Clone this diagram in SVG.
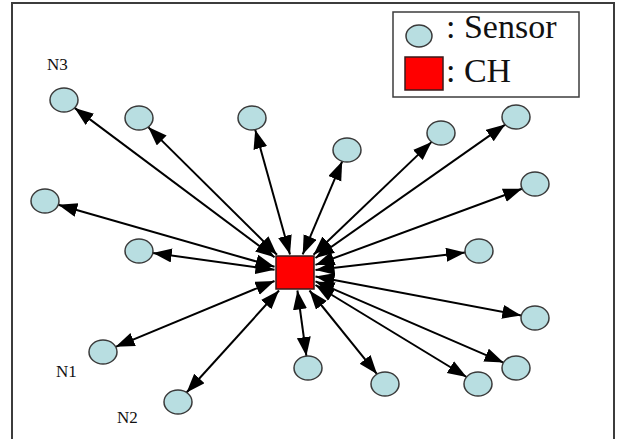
<svg xmlns="http://www.w3.org/2000/svg" width="617" height="439" viewBox="0 0 617 439">
  <style>
    .frame { fill: #ffffff; stroke: #3c3c3c; stroke-width: 2; }
    .legend { fill: #ffffff; stroke: #3c3c3c; stroke-width: 1.5; }
    .sensor { fill: #b8dee1; stroke: #3a3a3a; stroke-width: 1.5; }
    .ch { fill: #ff0000; stroke: #3a1a1a; stroke-width: 1.5; }
    .label { font-family: "Liberation Serif", "Times New Roman", serif; fill: #111111; }
    .small { font-size: 17px; }
    .big { font-size: 34px; }
    .link { stroke: #000000; stroke-width: 2; fill: none; marker-start: url(#head); marker-end: url(#head); }
  </style>
  <defs>
    <marker id="head" markerUnits="userSpaceOnUse" markerWidth="20" markerHeight="15" refX="19" refY="7" orient="auto-start-reverse">
      <path d="M0,0 L19,7 L0,14 Z" fill="#000000"/>
    </marker>
  </defs>

  <!-- outer frame (open at the bottom edge) -->
  <path class="frame" d="M12,445 L12,3 L614,3 L614,445"/>

  <!-- legend -->
  <g id="legend">
    <rect class="legend" x="393" y="12" width="186" height="85"/>
    <ellipse class="sensor" cx="419" cy="36" rx="13" ry="11"/>
    <text class="label big" x="446" y="38">: Sensor</text>
    <rect class="ch" x="405" y="57" width="38" height="33"/>
    <text class="label big" x="446" y="82">: CH</text>
  </g>

  <!-- connectors: cluster head to each sensor, arrowheads at both ends -->
  <g id="connectors">
    <line class="link" x1="274.5" y1="257.2" x2="74.6" y2="107.9"/>
    <line class="link" x1="277" y1="254.7" x2="148.2" y2="127.1"/>
    <line class="link" x1="290" y1="254.5" x2="255.2" y2="129.7"/>
    <line class="link" x1="302.7" y1="254.4" x2="342.2" y2="161.3"/>
    <line class="link" x1="313.5" y1="254.8" x2="431.6" y2="141.9"/>
    <line class="link" x1="315.5" y1="258" x2="505.2" y2="124.6"/>
    <line class="link" x1="274.5" y1="266.7" x2="58.3" y2="204.8"/>
    <line class="link" x1="315.5" y1="264.9" x2="522.1" y2="188.7"/>
    <line class="link" x1="274.5" y1="269.7" x2="152.8" y2="252.9"/>
    <line class="link" x1="315.5" y1="270.1" x2="465.1" y2="252.6"/>
    <line class="link" x1="315.5" y1="276.4" x2="521.3" y2="315.4"/>
    <line class="link" x1="274.5" y1="281" x2="115.6" y2="346.8"/>
    <line class="link" x1="315.5" y1="281.4" x2="503.5" y2="362.6"/>
    <line class="link" x1="279" y1="290.5" x2="186.6" y2="392.5"/>
    <line class="link" x1="297.4" y1="290.5" x2="306.4" y2="356.1"/>
    <line class="link" x1="309.5" y1="290.5" x2="377" y2="374.1"/>
    <line class="link" x1="315.5" y1="285" x2="466.6" y2="377"/>
  </g>

  <!-- cluster head -->
  <g id="ch">
    <rect class="ch" x="276" y="256" width="38" height="33"/>
  </g>

  <!-- sensor nodes -->
  <g id="n3"><ellipse class="sensor" cx="64" cy="100" rx="14" ry="12"/><text class="label small" x="47" y="70">N3</text></g>
  <g id="s2"><ellipse class="sensor" cx="139" cy="118" rx="14" ry="12"/></g>
  <g id="s3"><ellipse class="sensor" cx="252" cy="118" rx="14" ry="12"/></g>
  <g id="s4"><ellipse class="sensor" cx="347" cy="150" rx="14" ry="12"/></g>
  <g id="s5"><ellipse class="sensor" cx="441" cy="133" rx="14" ry="12"/></g>
  <g id="s6"><ellipse class="sensor" cx="516" cy="117" rx="14" ry="12"/></g>
  <g id="s7"><ellipse class="sensor" cx="45" cy="201" rx="14" ry="12"/></g>
  <g id="s8"><ellipse class="sensor" cx="535" cy="184" rx="14" ry="12"/></g>
  <g id="s9"><ellipse class="sensor" cx="139" cy="251" rx="14" ry="12"/></g>
  <g id="s10"><ellipse class="sensor" cx="479" cy="251" rx="14" ry="12"/></g>
  <g id="s11"><ellipse class="sensor" cx="535" cy="318" rx="14" ry="12"/></g>
  <g id="n1"><ellipse class="sensor" cx="103" cy="352" rx="14" ry="12"/><text class="label small" x="56" y="377">N1</text></g>
  <g id="s13"><ellipse class="sensor" cx="516" cy="368" rx="14" ry="12"/></g>
  <g id="n2"><ellipse class="sensor" cx="178" cy="402" rx="14" ry="12"/><text class="label small" x="117" y="423">N2</text></g>
  <g id="s15"><ellipse class="sensor" cx="308" cy="368" rx="14" ry="12"/></g>
  <g id="s16"><ellipse class="sensor" cx="385" cy="384" rx="14" ry="12"/></g>
  <g id="s17"><ellipse class="sensor" cx="478" cy="384" rx="14" ry="12"/></g>
</svg>
